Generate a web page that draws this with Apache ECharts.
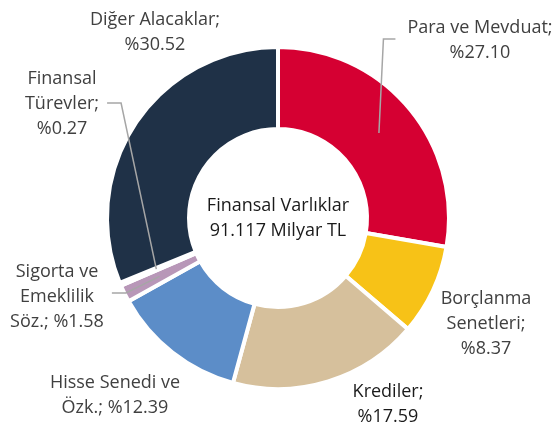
<!DOCTYPE html>
<html>
<head>
<meta charset="utf-8">
<script src="https://cdn.jsdelivr.net/npm/echarts@6/dist/echarts.min.js"></script>
<style>
  html, body { margin: 0; padding: 0; background: #fff; }
  #chart { width: 555px; height: 430px; }
</style>
</head>
<body>
<div id="chart"></div>
<script>
// data, clockwise from the top
const names = [
  "Para ve Mevduat;",
  "Borçlanma\nSenetleri;",
  "Krediler;",
  "Hisse Senedi ve\nÖzk.;",
  "Sigorta ve\nEmeklilik\nSöz.;",
  "Finansal\nTürevler;",
  "Diğer Alacaklar;"
];
const shares = [27.10, 8.37, 17.59, 12.39, 1.58, 0.27, 30.52];
const colors = ["#D50032", "#F7C217", "#D6C09C", "#5C8DC8", "#B897B8", "#A6A6A6", "#1F3147"];
const centerText = "Finansal Varlıklar\n91.117 Milyar TL";

// label placement (block centres) and which ones get a leader line
const labelPos = [
  [480, 40], [486, 324], [388, 404], [115, 395], [57, 297], [62, 104], [155, 32]
];
const hasLine = [true, false, false, false, true, true, false];
// separator between number and name: new line or space
const joiner = ["\n", "\n", "\n", " ", " ", "\n", "\n"];

const chart = echarts.init(document.getElementById("chart"));
const CX = 278, CY = 218;

const pieData = names.map((n, i) => ({
  name: n,
  value: shares[i],
  itemStyle: { color: colors[i] }
}));

chart.setOption({
  animation: false,
  series: [
    {
      type: "pie",
      center: [CX, CY],
      radius: [89, 171],
      startAngle: 90,
      silent: true,
      z: 1,
      itemStyle: { borderColor: "#fff", borderWidth: 4 },
      label: { show: false },
      labelLine: { show: false },
      data: pieData
    },
    {
      // invisible ring, only carries the labels (leader lines start mid-ring)
      type: "pie",
      center: [CX, CY],
      radius: [89, 132],
      startAngle: 90,
      silent: true,
      z: 5,
      itemStyle: { color: "rgba(0,0,0,0)", borderWidth: 0 },
      label: {
        show: true,
        position: "outside",
        overflow: "none",
        fontFamily: "Open Sans",
        fontSize: 18,
        lineHeight: 25,
        color: "#404040",
        formatter: (p) => p.name + joiner[p.dataIndex] + "%" + p.value.toFixed(2)
      },
      labelLine: {
        show: true,
        lineStyle: { color: "#A6A6A6", width: 1.5 }
      },
      labelLayout: function (params) {
        const i = params.dataIndex;
        const [x, y] = labelPos[i];
        const out = { x: x, y: y, align: "center", verticalAlign: "middle" };
        if (hasLine[i] && params.labelLinePoints) {
          const start = params.labelLinePoints[0];
          const r = params.labelRect;
          const right = start[0] > CX;
          const gap = i === 0 ? 12 : 8;
          const endX = right ? x - r.width / 2 - gap : x + r.width / 2 + gap;
          let lineY = y;
          if (i === 0) lineY = y - 1;
          if (i === 5) lineY = y - 1;
          if (i === 4) lineY = y - 4;
          const midX = right ? endX - 12 : endX + 14;
          out.labelLinePoints = [start, [midX, lineY], [endX, lineY]];
        }
        return out;
      },
      data: names.map((n, i) => ({
        name: n,
        value: shares[i],
        labelLine: { show: hasLine[i] },
        label: i === 2 ? { color: "#1a1a1a" } : {}
      }))
    }
  ],
  graphic: [
    {
      type: "text",
      x: CX,
      y: CY,
      style: {
        text: centerText,
        font: '18px "Open Sans"',
        lineHeight: 25,
        fill: "#1a1a1a",
        textAlign: "center",
        textVerticalAlign: "middle"
      }
    }
  ]
});
</script>
</body>
</html>
